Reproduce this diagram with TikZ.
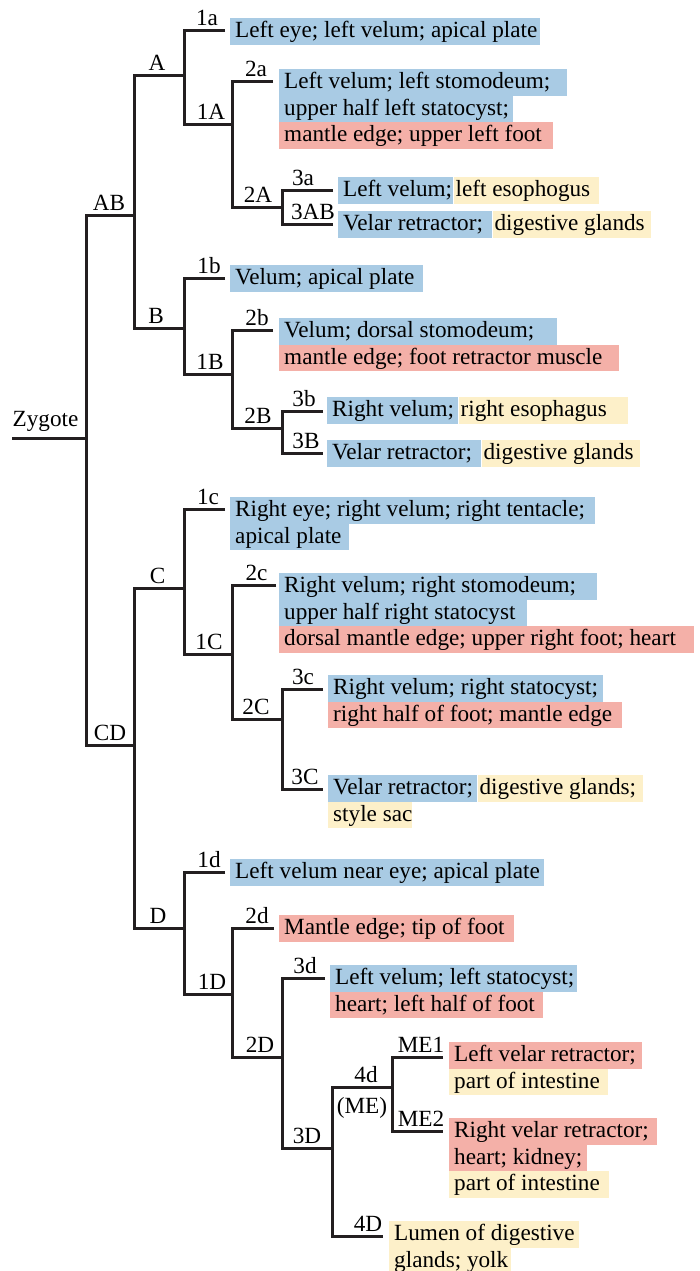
\documentclass[tikz,border=0pt]{standalone}
\usepackage{fontspec}
\setmainfont{Liberation Serif}
\definecolor{cb}{RGB}{169,203,228}
\definecolor{cr}{RGB}{244,176,168}
\definecolor{cy}{RGB}{253,240,201}
\definecolor{ln}{RGB}{35,31,32}
\newcommand\hlt[2]{\makebox[#1pt][l]{\hspace{5pt}#2}}
\newcommand\hlu[2]{\makebox[#1pt][l]{\hspace{2pt}#2}}
\tikzset{
  tree/.style={draw=ln, line width=3pt, line join=miter, line cap=butt},
  lab/.style={anchor=base, inner sep=0pt, font=\fontsize{23.2}{26.5}\selectfont, text=black},
  hl/.style={anchor=north west, inner xsep=0pt, inner ysep=0pt, text height=19.7pt, text depth=6.8pt, font=\fontsize{23.2}{26.5}\selectfont, text=black},
  nxt/.style={hl, anchor=north west}
}
\begin{document}
\begin{tikzpicture}[x=1pt,y=-1pt]
\useasboundingbox (0,0) rectangle (700,1271);
% ---- tree points
\coordinate (zy0) at (12,438); \coordinate (zy) at (86,438);
\coordinate (nAB) at (134,215); \coordinate (nCD) at (134,745);
\coordinate (nA) at (184,76); \coordinate (nB) at (184,328);
\coordinate (nC) at (184,588); \coordinate (nD) at (184,928);
\coordinate (n1a) at (225,31); \coordinate (n1A) at (232,125);
\coordinate (n2a) at (273,82); \coordinate (n2A) at (282,207);
\coordinate (n3a) at (333,190); \coordinate (n3AB) at (333,224);
\coordinate (n1b) at (225,278); \coordinate (n1B) at (232,374);
\coordinate (n2b) at (273,330); \coordinate (n2B) at (282,428);
\coordinate (n3b) at (323,411); \coordinate (n3B) at (323,453);
\coordinate (n1c) at (225,509); \coordinate (n1C) at (232,654);
\coordinate (n2c) at (276,585); \coordinate (n2C) at (282,719);
\coordinate (n3c) at (323,689); \coordinate (n3C) at (323,789);
\coordinate (n1d) at (225,872); \coordinate (n1D) at (232,994);
\coordinate (n2d) at (274,928); \coordinate (n2D) at (282,1057);
\coordinate (n3d) at (325,978); \coordinate (n3D) at (332,1148);
\coordinate (n4d) at (392,1087); \coordinate (n4D) at (383,1236);
\coordinate (nME1) at (443,1057); \coordinate (nME2) at (443,1131);
% ---- brackets
\draw[tree] (zy0) -- (zy);
\draw[tree] (nAB) -| (zy) |- (nCD);
\draw[tree] (nA) -| (nAB) |- (nB);
\draw[tree] (n1a) -| (nA) |- (n1A);
\draw[tree] (n2a) -| (n1A) |- (n2A);
\draw[tree] (n3a) -| (n2A) |- (n3AB);
\draw[tree] (n1b) -| (nB) |- (n1B);
\draw[tree] (n2b) -| (n1B) |- (n2B);
\draw[tree] (n3b) -| (n2B) |- (n3B);
\draw[tree] (nC) -| (nCD) |- (nD);
\draw[tree] (n1c) -| (nC) |- (n1C);
\draw[tree] (n2c) -| (n1C) |- (n2C);
\draw[tree] (n3c) -| (n2C) |- (n3C);
\draw[tree] (n1d) -| (nD) |- (n1D);
\draw[tree] (n2d) -| (n1D) |- (n2D);
\draw[tree] (n3d) -| (n2D) |- (n3D);
\draw[tree] (n4d) -| (n3D) |- (n4D);
\draw[tree] (nME1) -| (n4d) |- (nME2);
% ---- branch labels
\node[lab] (lzy) at (45.5,426) {Zygote};
\node[lab] (lAB) at (109,210.5) {AB};
\node[lab] (lA) at (157,71) {A};
\node[lab] (l1a) at (207,26) {1a};
\node[lab] (l1A) at (211,120) {1A};
\node[lab] (l2a) at (256,77) {2a};
\node[lab] (l2A) at (258,202) {2A};
\node[lab] (l3a) at (303,185) {3a};
\node[lab] (l3AB) at (313,219) {3AB};
\node[lab] (lB) at (156,323) {B};
\node[lab] (l1b) at (209,273) {1b};
\node[lab] (l1B) at (210,369) {1B};
\node[lab] (l2b) at (257,325) {2b};
\node[lab] (l2B) at (258,423) {2B};
\node[lab] (l3b) at (304,406) {3b};
\node[lab] (l3B) at (306,448) {3B};
\node[lab] (lCD) at (110,740) {CD};
\node[lab] (lC) at (157.5,583) {C};
\node[lab] (l1c) at (208,504) {1c};
\node[lab] (l1C) at (209,649) {1C};
\node[lab] (l2c) at (256.5,580) {2c};
\node[lab] (l2C) at (256,714) {2C};
\node[lab] (l3c) at (303,684) {3c};
\node[lab] (l3C) at (305,784) {3C};
\node[lab] (lD) at (158,923) {D};
\node[lab] (l1d) at (209,867) {1d};
\node[lab] (l1D) at (212,989) {1D};
\node[lab] (l2d) at (257,923) {2d};
\node[lab] (l2D) at (260,1052) {2D};
\node[lab] (l3d) at (305,973) {3d};
\node[lab] (l3D) at (307,1143) {3D};
\node[lab] (l4d) at (366,1082) {4d};
\node[lab] (lME) at (362,1113) {(ME)};
\node[lab] (lME1) at (421,1052) {ME1};
\node[lab] (lME2) at (421,1126) {ME2};
\node[lab] (l4D) at (368,1231) {4D};
% ---- fates
\node[hl, fill=cb] (t1a) at (230,18) {\hlt{310}{Left eye; left velum; apical plate}};
%
\node[hl, fill=cb] (t2a1) at (279,69) {\hlt{288}{Left velum; left stomodeum;}};
\node[hl, fill=cb] (t2a2) at (279,95.5) {\hlt{234}{upper half left statocyst;}};
\node[hl, fill=cr] (t2a3) at (279,122) {\hlt{274}{mantle edge; upper left foot}};
%
\node[hl, fill=cb] (t3a1) at (338,177) {\hlt{115}{Left velum;}};
\node[nxt, fill=cy] (t3a2) at (t3a1.north east) {\hlu{145}{left esophogus}};
\node[hl, fill=cb] (t3AB1) at (338,211) {\hlt{154}{Velar retractor;}};
\node[nxt, fill=cy] (t3AB2) at (t3AB1.north east) {\hlu{158}{digestive glands}};
%
\node[hl, fill=cb] (t1b) at (230,265) {\hlt{193}{Velum; apical plate}};
\node[hl, fill=cb] (t2b1) at (279,318) {\hlt{278}{Velum; dorsal stomodeum;}};
\node[hl, fill=cr] (t2b2) at (279,344.5) {\hlt{340}{mantle edge; foot retractor muscle}};
\node[hl, fill=cb] (t3b1) at (327,397) {\hlt{131}{Right velum;}};
\node[nxt, fill=cy] (t3b2) at (t3b1.north east) {\hlu{169}{right esophagus}};
\node[hl, fill=cb] (t3B1) at (327,440) {\hlt{154}{Velar retractor;}};
\node[nxt, fill=cy] (t3B2) at (t3B1.north east) {\hlu{158}{digestive glands}};
%
\node[hl, fill=cb] (t1c1) at (230,497) {\hlt{365}{Right eye; right velum; right tentacle;}};
\node[hl, fill=cb] (t1c2) at (230,523.5) {\hlt{119}{apical plate}};
\node[hl, fill=cb] (t2c1) at (279,573) {\hlt{318}{Right velum; right stomodeum;}};
\node[hl, fill=cb] (t2c2) at (279,599.5) {\hlt{248}{upper half right statocyst}};
\node[hl, fill=cr] (t2c3) at (279,626) {\hlt{415}{dorsal mantle edge; upper right foot; heart}};
\node[hl, fill=cb] (t3c1) at (328,675) {\hlt{275}{Right velum; right statocyst;}};
\node[hl, fill=cr] (t3c2) at (328,701.5) {\hlt{294}{right half of foot; mantle edge}};
\node[hl, fill=cb] (t3C1) at (328,775) {\hlt{149}{Velar retractor;}};
\node[nxt, fill=cy] (t3C2) at (t3C1.north east) {\hlu{165}{digestive glands;}};
\node[hl, fill=cy] (t3C3) at (328,801.5) {\hlt{84}{style sac}};
%
\node[hl, fill=cb] (t1d) at (230,859) {\hlt{314}{Left velum near eye; apical plate}};
\node[hl, fill=cr] (t2d) at (279,915) {\hlt{235}{Mantle edge; tip of foot}};
\node[hl, fill=cb] (t3d1) at (330,965) {\hlt{247}{Left velum; left statocyst;}};
\node[hl, fill=cr] (t3d2) at (330,991.5) {\hlt{213}{heart; left half of foot}};
\node[hl, fill=cr] (tME11) at (449,1042) {\hlt{193}{Left velar retractor;}};
\node[hl, fill=cy] (tME12) at (449,1068.5) {\hlt{159}{part of intestine}};
\node[hl, fill=cr] (tME21) at (449,1118) {\hlt{208}{Right velar retractor;}};
\node[hl, fill=cr] (tME22) at (449,1144.5) {\hlt{138}{heart; kidney;}};
\node[hl, fill=cy] (tME23) at (449,1171) {\hlt{160}{part of intestine}};
\node[hl, fill=cy] (t4D1) at (389,1221) {\hlt{190}{Lumen of digestive}};
\node[hl, fill=cy] (t4D2) at (389,1247.5) {\hlt{122}{glands; yolk}};
\end{tikzpicture}
\end{document}
